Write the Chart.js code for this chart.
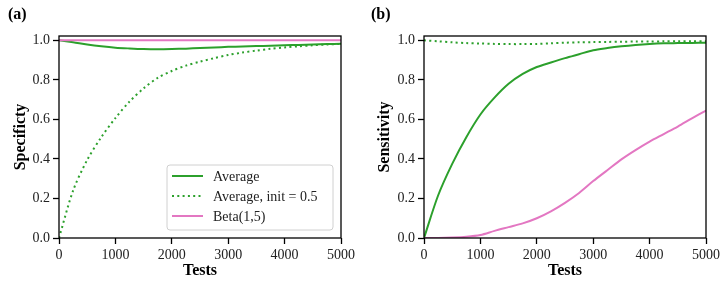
<!DOCTYPE html>
<html>
<head>
<meta charset="utf-8">
<script src="https://cdn.jsdelivr.net/npm/chart.js@4.4.1/dist/chart.umd.min.js"></script>
<style>
body { margin: 0; background: #fff; }
#wrap { display: flex; width: 727px; height: 284px; }
canvas { display: block; }
</style>
</head>
<body>
<div id="wrap">
  <canvas id="specChart" width="363" height="284"></canvas>
  <canvas id="sensChart" width="364" height="284"></canvas>
</div>
<script>
// number of tests on the x axis (shared by both panels)
var tests = [0, 250, 500, 750, 1000, 1250, 1500, 1750, 2000, 2250, 2500,
             2750, 3000, 3250, 3500, 3750, 4000, 4250, 4500, 4750, 5000];
var xTicks = [0, 1000, 2000, 3000, 4000, 5000];
var yTicks = [0.0, 0.2, 0.4, 0.6, 0.8, 1.0];

// (a) specificity
var specAverage = [1.0, 0.99, 0.979, 0.970, 0.963, 0.959, 0.956, 0.955, 0.956, 0.958, 0.961,
                   0.964, 0.967, 0.969, 0.971, 0.973, 0.975, 0.977, 0.979, 0.981, 0.983];
var specAverageInit = [0.0, 0.24, 0.395, 0.51, 0.607, 0.69, 0.757, 0.81, 0.845, 0.872, 0.892,
                       0.91, 0.926, 0.938, 0.948, 0.957, 0.964, 0.970, 0.975, 0.979, 0.982];
var specBeta = [1.0, 1.0, 1.0, 1.0, 1.0, 1.0, 1.0, 1.0, 1.0, 1.0, 1.0,
                1.0, 1.0, 1.0, 1.0, 1.0, 1.0, 1.0, 1.0, 1.0, 1.0];

// (b) sensitivity
var sensAverage = [0.0, 0.215, 0.375, 0.51, 0.625, 0.71, 0.78, 0.83, 0.865, 0.888, 0.91,
                   0.93, 0.95, 0.961, 0.97, 0.977, 0.982, 0.985, 0.986, 0.987, 0.988];
var sensAverageInit = [1.0, 0.995, 0.99, 0.986, 0.984, 0.982, 0.981, 0.981, 0.982, 0.985, 0.988,
                       0.99, 0.991, 0.992, 0.993, 0.994, 0.994, 0.995, 0.995, 0.996, 0.996];
var sensBeta = [0.0, 0.0, 0.002, 0.006, 0.015, 0.036, 0.055, 0.074, 0.10, 0.135, 0.178,
                0.228, 0.288, 0.343, 0.398, 0.445, 0.488, 0.526, 0.564, 0.605, 0.645];

var seriesNames = ["Average", "Average, init = 0.5", "Beta(1,5)"];

var GREEN = "#2ca02c";
var PINK = "#e377c2";
var FONT = "'Liberation Serif', 'DejaVu Serif', serif";

function toPoints(values) {
    return tests.map(function (t, i) { return { x: t, y: values[i] }; });
}

function makeDatasets(avg, avgInit, beta) {
    return [
        { label: seriesNames[0], data: toPoints(avg), borderColor: GREEN, borderWidth: 2, order: 2 },
        { label: seriesNames[1], data: toPoints(avgInit), borderColor: GREEN, borderWidth: 2,
          borderDash: [2, 3.3], borderCapStyle: "butt", order: 1 },
        { label: seriesNames[2], data: toPoints(beta), borderColor: PINK, borderWidth: 2, order: 0 }
    ];
}

// black box round the plot area plus the panel letter
var framePlugin = {
    id: "frame",
    afterDraw: function (chart, args, opts) {
        var ctx = chart.ctx, a = chart.chartArea;
        ctx.save();
        ctx.strokeStyle = "#000";
        ctx.lineWidth = 1.3;
        ctx.strokeRect(a.left, a.top, a.right - a.left, a.bottom - a.top);
        ctx.fillStyle = "#000";
        ctx.font = "bold 16px " + FONT;
        ctx.textBaseline = "middle";
        ctx.fillText(opts.letter, 8, 15);
        ctx.restore();
    }
};

// legend drawn inside the axes, lower right (like matplotlib)
var insideLegend = {
    id: "insideLegend",
    afterDraw: function (chart, args, opts) {
        if (!opts.show) return;
        var ctx = chart.ctx;
        var x = 167, y = 165, w = 166, h = 65;
        ctx.save();
        ctx.beginPath();
        ctx.roundRect(x, y, w, h, 3);
        ctx.fillStyle = "rgba(255,255,255,0.85)";
        ctx.fill();
        ctx.strokeStyle = "#d0d0d0";
        ctx.lineWidth = 1;
        ctx.stroke();
        ctx.font = "14px " + FONT;
        ctx.textBaseline = "middle";
        chart.data.datasets.forEach(function (ds, i) {
            var ry = y + 11 + i * 20;
            ctx.beginPath();
            ctx.strokeStyle = ds.borderColor;
            ctx.lineWidth = ds.borderWidth;
            ctx.lineCap = "butt";
            ctx.setLineDash(ds.borderDash || []);
            ctx.moveTo(x + 5, ry);
            ctx.lineTo(x + 36, ry);
            ctx.stroke();
            ctx.setLineDash([]);
            ctx.fillStyle = "#222";
            ctx.fillText(ds.label, x + 46, ry + 1);
        });
        ctx.restore();
    }
};

function makeChart(canvasId, datasets, yTitle, letter, leftW, rightPad, titlePad, legend) {
    return new Chart(document.getElementById(canvasId), {
        type: "line",
        data: { datasets: datasets },
        plugins: [framePlugin, insideLegend],
        options: {
            responsive: false,
            animation: false,
            layout: { padding: { left: 0, top: 36, right: rightPad, bottom: 0 } },
            elements: { point: { radius: 0 }, line: { tension: 0.3, fill: false } },
            plugins: {
                legend: { display: false },
                tooltip: { enabled: false },
                frame: { letter: letter },
                insideLegend: { show: legend }
            },
            scales: {
                x: {
                    type: "linear",
                    min: 0, max: 5000,
                    afterBuildTicks: function (scale) {
                        scale.ticks = xTicks.map(function (v) { return { value: v }; });
                    },
                    afterFit: function (scale) { scale.height = 46; },
                    border: { display: false },
                    grid: { drawOnChartArea: false, drawTicks: true, tickLength: 6,
                            tickColor: "#000", tickWidth: 1.3 },
                    ticks: { color: "#222", font: { family: FONT, size: 14 }, padding: 3,
                             maxRotation: 0, autoSkip: false,
                             callback: function (v) { return String(v); } },
                    title: { display: true, text: "Tests", color: "#000",
                             font: { family: FONT, size: 16, weight: "bold" },
                             padding: { top: 0, bottom: 4 } }
                },
                y: {
                    type: "linear",
                    min: 0, max: 1.022,
                    afterBuildTicks: function (scale) {
                        scale.ticks = yTicks.map(function (v) { return { value: v }; });
                    },
                    afterFit: function (scale) { scale.width = leftW; },
                    border: { display: false },
                    grid: { drawOnChartArea: false, drawTicks: true, tickLength: 6,
                            tickColor: "#000", tickWidth: 1.3 },
                    ticks: { color: "#222", font: { family: FONT, size: 14 }, padding: 3,
                             callback: function (v) { return v.toFixed(1); } },
                    title: { display: true, text: yTitle, color: "#000",
                             font: { family: FONT, size: 16, weight: "bold" },
                             padding: { top: titlePad, bottom: 0 } }
                }
            }
        }
    });
}

makeChart("specChart", makeDatasets(specAverage, specAverageInit, specBeta),
          "Specificty", "(a)", 59, 22, 11.5, true);
makeChart("sensChart", makeDatasets(sensAverage, sensAverageInit, sensBeta),
          "Sensitivity", "(b)", 61, 21, 12.5, false);
</script>
</body>
</html>
